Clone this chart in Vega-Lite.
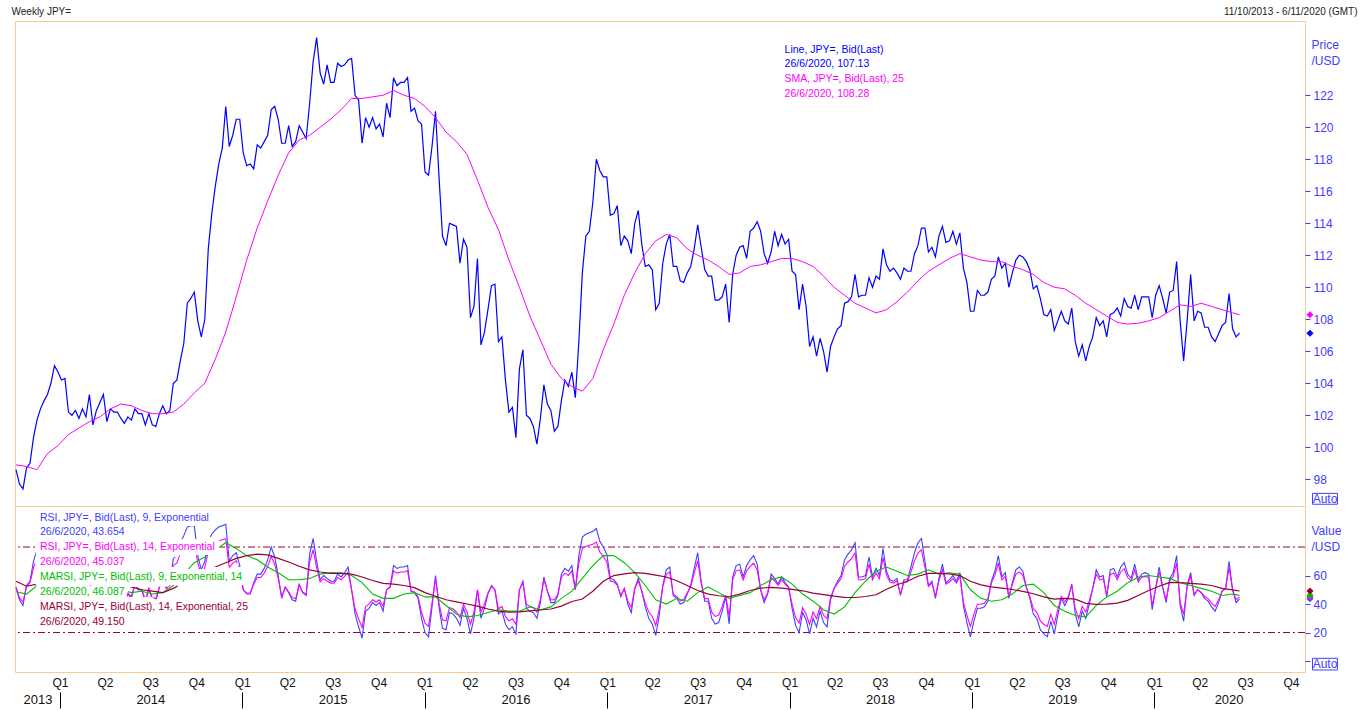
{
  "$schema": "https://vega.github.io/schema/vega-lite/v6.json",
  "background": "white",
  "padding": {"left": 10, "top": 5, "right": 0, "bottom": 0},
  "spacing": 0,
  "bounds": "flush",
  "config": {
    "view": {"stroke": "#ffc890", "strokeWidth": 1},
    "axis": {"grid": false, "domain": false, "labelFont": "Liberation Sans", "titleFont": "Liberation Sans", "titleFontWeight": "normal"},
    "text": {"font": "Liberation Sans"}
  },
  "datasets": {
    "weekly": [
      {"date":"2013-10-11","price":98.6,"rsi9":52,"rsi14":51.6},
      {"date":"2013-10-18","price":97.7,"rsi9":43,"rsi14":44.5},
      {"date":"2013-10-25","price":97.4,"rsi9":39,"rsi14":41.4},
      {"date":"2013-11-01","price":98.7,"rsi9":53,"rsi14":52.3},
      {"date":"2013-11-08","price":99.0,"rsi9":56,"rsi14":54.7},
      {"date":"2013-11-15","price":100.6,"rsi9":70,"rsi14":65.6},
      {"date":"2013-11-22","price":101.7,"rsi9":78,"rsi14":71.8},
      {"date":"2013-11-29","price":102.4,"rsi9":82,"rsi14":75.0},
      {"date":"2013-12-06","price":102.9,"rsi9":85,"rsi14":77.3},
      {"date":"2013-12-13","price":103.3,"rsi9":86,"rsi14":78.1},
      {"date":"2013-12-20","price":104.0,"rsi9":89,"rsi14":80.4},
      {"date":"2013-12-27","price":105.1,"rsi9":92,"rsi14":82.8},
      {"date":"2014-01-03","price":104.7,"rsi9":85,"rsi14":77.3},
      {"date":"2014-01-10","price":104.2,"rsi9":74,"rsi14":68.7},
      {"date":"2014-01-17","price":104.3,"rsi9":75,"rsi14":69.5},
      {"date":"2014-01-24","price":102.2,"rsi9":50,"rsi14":50.0},
      {"date":"2014-01-31","price":102.0,"rsi9":47,"rsi14":47.7},
      {"date":"2014-02-07","price":102.3,"rsi9":51,"rsi14":50.8},
      {"date":"2014-02-14","price":101.8,"rsi9":44,"rsi14":45.3},
      {"date":"2014-02-21","price":102.4,"rsi9":53,"rsi14":52.3},
      {"date":"2014-02-28","price":101.9,"rsi9":46,"rsi14":46.9},
      {"date":"2014-03-07","price":103.3,"rsi9":64,"rsi14":60.9},
      {"date":"2014-03-14","price":101.4,"rsi9":40,"rsi14":42.2},
      {"date":"2014-03-21","price":102.3,"rsi9":52,"rsi14":51.6},
      {"date":"2014-03-28","price":102.8,"rsi9":58,"rsi14":56.2},
      {"date":"2014-04-04","price":103.3,"rsi9":62,"rsi14":59.4},
      {"date":"2014-04-11","price":101.6,"rsi9":42,"rsi14":43.8},
      {"date":"2014-04-18","price":102.4,"rsi9":52,"rsi14":51.6},
      {"date":"2014-04-25","price":102.2,"rsi9":49,"rsi14":49.2},
      {"date":"2014-05-02","price":102.2,"rsi9":49,"rsi14":49.2},
      {"date":"2014-05-09","price":101.8,"rsi9":44,"rsi14":45.3},
      {"date":"2014-05-16","price":101.5,"rsi9":41,"rsi14":43.0},
      {"date":"2014-05-23","price":101.9,"rsi9":47,"rsi14":47.7},
      {"date":"2014-05-30","price":101.7,"rsi9":44,"rsi14":45.3},
      {"date":"2014-06-06","price":102.4,"rsi9":54,"rsi14":53.1},
      {"date":"2014-06-13","price":102.1,"rsi9":50,"rsi14":50.0},
      {"date":"2014-06-20","price":102.1,"rsi9":50,"rsi14":50.0},
      {"date":"2014-06-27","price":101.4,"rsi9":41,"rsi14":43.0},
      {"date":"2014-07-04","price":102.1,"rsi9":51,"rsi14":50.8},
      {"date":"2014-07-11","price":101.4,"rsi9":43,"rsi14":44.5},
      {"date":"2014-07-18","price":101.3,"rsi9":42,"rsi14":43.8},
      {"date":"2014-07-25","price":102.1,"rsi9":52,"rsi14":51.6},
      {"date":"2014-08-01","price":102.6,"rsi9":58,"rsi14":56.2},
      {"date":"2014-08-08","price":102.1,"rsi9":51,"rsi14":50.8},
      {"date":"2014-08-15","price":102.3,"rsi9":54,"rsi14":53.1},
      {"date":"2014-08-22","price":104.0,"rsi9":72,"rsi14":67.2},
      {"date":"2014-08-29","price":104.2,"rsi9":74,"rsi14":68.7},
      {"date":"2014-09-05","price":105.4,"rsi9":83,"rsi14":75.7},
      {"date":"2014-09-12","price":106.5,"rsi9":88,"rsi14":79.6},
      {"date":"2014-09-19","price":109.0,"rsi9":94,"rsi14":84.3},
      {"date":"2014-09-26","price":109.3,"rsi9":95,"rsi14":85.1},
      {"date":"2014-10-03","price":109.7,"rsi9":95,"rsi14":85.1},
      {"date":"2014-10-10","price":107.9,"rsi9":74,"rsi14":68.7},
      {"date":"2014-10-17","price":106.9,"rsi9":64,"rsi14":60.9},
      {"date":"2014-10-24","price":108.0,"rsi9":70,"rsi14":65.6},
      {"date":"2014-10-31","price":112.4,"rsi9":84,"rsi14":76.5},
      {"date":"2014-11-07","price":114.6,"rsi9":89,"rsi14":80.4},
      {"date":"2014-11-14","price":116.3,"rsi9":92,"rsi14":82.8},
      {"date":"2014-11-21","price":117.7,"rsi9":94,"rsi14":84.3},
      {"date":"2014-11-28","price":118.7,"rsi9":95,"rsi14":85.1},
      {"date":"2014-12-05","price":121.3,"rsi9":96,"rsi14":85.9},
      {"date":"2014-12-12","price":118.8,"rsi9":70,"rsi14":65.6},
      {"date":"2014-12-19","price":119.5,"rsi9":74,"rsi14":68.7},
      {"date":"2014-12-26","price":120.5,"rsi9":76,"rsi14":70.3},
      {"date":"2015-01-02","price":120.5,"rsi9":67,"rsi14":63.3},
      {"date":"2015-01-09","price":118.4,"rsi9":50,"rsi14":50.0},
      {"date":"2015-01-16","price":117.6,"rsi9":47,"rsi14":47.7},
      {"date":"2015-01-23","price":117.7,"rsi9":47,"rsi14":47.7},
      {"date":"2015-01-30","price":117.4,"rsi9":55,"rsi14":53.9},
      {"date":"2015-02-06","price":118.9,"rsi9":61,"rsi14":58.6},
      {"date":"2015-02-13","price":118.7,"rsi9":61,"rsi14":58.6},
      {"date":"2015-02-20","price":119.1,"rsi9":65,"rsi14":61.7},
      {"date":"2015-02-27","price":119.5,"rsi9":71,"rsi14":66.4},
      {"date":"2015-03-06","price":121.1,"rsi9":80,"rsi14":73.4},
      {"date":"2015-03-13","price":121.3,"rsi9":73,"rsi14":67.9},
      {"date":"2015-03-20","price":120.5,"rsi9":60,"rsi14":57.8},
      {"date":"2015-03-27","price":119.0,"rsi9":44,"rsi14":45.3},
      {"date":"2015-04-03","price":119.0,"rsi9":52,"rsi14":51.6},
      {"date":"2015-04-10","price":120.1,"rsi9":48,"rsi14":48.4},
      {"date":"2015-04-17","price":118.8,"rsi9":43,"rsi14":44.5},
      {"date":"2015-04-24","price":119.1,"rsi9":42,"rsi14":43.8},
      {"date":"2015-05-01","price":120.1,"rsi9":54,"rsi14":53.1},
      {"date":"2015-05-08","price":119.7,"rsi9":48,"rsi14":48.4},
      {"date":"2015-05-15","price":119.3,"rsi9":46,"rsi14":46.9},
      {"date":"2015-05-22","price":121.5,"rsi9":75,"rsi14":69.5},
      {"date":"2015-05-29","price":124.1,"rsi9":86,"rsi14":78.1},
      {"date":"2015-06-05","price":125.6,"rsi9":70,"rsi14":65.6},
      {"date":"2015-06-12","price":123.4,"rsi9":57,"rsi14":55.5},
      {"date":"2015-06-19","price":122.7,"rsi9":60,"rsi14":57.8},
      {"date":"2015-06-26","price":123.9,"rsi9":58,"rsi14":56.2},
      {"date":"2015-07-03","price":122.8,"rsi9":56,"rsi14":54.7},
      {"date":"2015-07-10","price":122.8,"rsi9":56,"rsi14":54.7},
      {"date":"2015-07-17","price":124.0,"rsi9":61,"rsi14":58.6},
      {"date":"2015-07-24","price":123.8,"rsi9":59,"rsi14":57.0},
      {"date":"2015-07-31","price":123.9,"rsi9":62,"rsi14":59.4},
      {"date":"2015-08-07","price":124.2,"rsi9":66,"rsi14":62.5},
      {"date":"2015-08-14","price":124.3,"rsi9":50,"rsi14":50.0},
      {"date":"2015-08-21","price":122.0,"rsi9":33,"rsi14":36.7},
      {"date":"2015-08-28","price":121.7,"rsi9":24,"rsi14":29.7},
      {"date":"2015-09-04","price":119.0,"rsi9":16,"rsi14":23.5},
      {"date":"2015-09-11","price":120.6,"rsi9":35,"rsi14":38.3},
      {"date":"2015-09-18","price":120.0,"rsi9":37,"rsi14":39.9},
      {"date":"2015-09-25","price":120.6,"rsi9":41,"rsi14":43.0},
      {"date":"2015-10-02","price":119.9,"rsi9":39,"rsi14":41.4},
      {"date":"2015-10-09","price":120.2,"rsi9":41,"rsi14":43.0},
      {"date":"2015-10-16","price":119.4,"rsi9":35,"rsi14":38.3},
      {"date":"2015-10-23","price":121.5,"rsi9":50,"rsi14":50.0},
      {"date":"2015-10-30","price":120.6,"rsi9":52,"rsi14":51.6},
      {"date":"2015-11-06","price":123.1,"rsi9":67,"rsi14":63.3},
      {"date":"2015-11-13","price":122.6,"rsi9":65,"rsi14":61.7},
      {"date":"2015-11-20","price":122.8,"rsi9":66,"rsi14":62.5},
      {"date":"2015-11-27","price":122.8,"rsi9":66,"rsi14":62.5},
      {"date":"2015-12-04","price":123.1,"rsi9":67,"rsi14":63.3},
      {"date":"2015-12-11","price":121.0,"rsi9":49,"rsi14":49.2},
      {"date":"2015-12-18","price":121.2,"rsi9":48,"rsi14":48.4},
      {"date":"2015-12-25","price":120.4,"rsi9":44,"rsi14":45.3},
      {"date":"2016-01-01","price":120.2,"rsi9":30,"rsi14":34.4},
      {"date":"2016-01-08","price":117.2,"rsi9":20,"rsi14":26.6},
      {"date":"2016-01-15","price":117.0,"rsi9":17,"rsi14":24.3},
      {"date":"2016-01-22","price":118.8,"rsi9":38,"rsi14":40.6},
      {"date":"2016-01-29","price":121.0,"rsi9":60,"rsi14":57.8},
      {"date":"2016-02-05","price":116.9,"rsi9":38,"rsi14":40.6},
      {"date":"2016-02-12","price":113.2,"rsi9":23,"rsi14":28.9},
      {"date":"2016-02-19","price":112.6,"rsi9":22,"rsi14":28.2},
      {"date":"2016-02-26","price":114.0,"rsi9":34,"rsi14":37.5},
      {"date":"2016-03-04","price":113.9,"rsi9":33,"rsi14":36.7},
      {"date":"2016-03-11","price":113.8,"rsi9":30,"rsi14":34.4},
      {"date":"2016-03-18","price":111.5,"rsi9":25,"rsi14":30.5},
      {"date":"2016-03-25","price":113.0,"rsi9":37,"rsi14":39.9},
      {"date":"2016-04-01","price":112.5,"rsi9":30,"rsi14":34.4},
      {"date":"2016-04-08","price":108.1,"rsi9":19,"rsi14":25.8},
      {"date":"2016-04-15","price":108.8,"rsi9":30,"rsi14":34.4},
      {"date":"2016-04-22","price":111.8,"rsi9":50,"rsi14":50.0},
      {"date":"2016-04-29","price":106.4,"rsi9":30,"rsi14":34.4},
      {"date":"2016-05-06","price":107.2,"rsi9":37,"rsi14":39.9},
      {"date":"2016-05-13","price":108.6,"rsi9":47,"rsi14":47.7},
      {"date":"2016-05-20","price":110.1,"rsi9":53,"rsi14":52.3},
      {"date":"2016-05-27","price":110.2,"rsi9":50,"rsi14":50.0},
      {"date":"2016-06-03","price":106.6,"rsi9":33,"rsi14":36.7},
      {"date":"2016-06-10","price":106.9,"rsi9":35,"rsi14":38.3},
      {"date":"2016-06-17","price":104.2,"rsi9":26,"rsi14":31.3},
      {"date":"2016-06-24","price":102.2,"rsi9":22,"rsi14":28.2},
      {"date":"2016-07-01","price":102.5,"rsi9":24,"rsi14":29.7},
      {"date":"2016-07-08","price":100.6,"rsi9":19,"rsi14":25.8},
      {"date":"2016-07-15","price":104.9,"rsi9":50,"rsi14":50.0},
      {"date":"2016-07-22","price":106.1,"rsi9":56,"rsi14":54.7},
      {"date":"2016-07-29","price":102.0,"rsi9":37,"rsi14":39.9},
      {"date":"2016-08-05","price":101.8,"rsi9":35,"rsi14":38.3},
      {"date":"2016-08-12","price":101.3,"rsi9":34,"rsi14":37.5},
      {"date":"2016-08-19","price":100.2,"rsi9":30,"rsi14":34.4},
      {"date":"2016-08-26","price":101.8,"rsi9":41,"rsi14":43.0},
      {"date":"2016-09-02","price":103.9,"rsi9":59,"rsi14":57.0},
      {"date":"2016-09-09","price":102.7,"rsi9":49,"rsi14":49.2},
      {"date":"2016-09-16","price":102.3,"rsi9":41,"rsi14":43.0},
      {"date":"2016-09-23","price":101.0,"rsi9":41,"rsi14":43.0},
      {"date":"2016-09-30","price":101.3,"rsi9":46,"rsi14":46.9},
      {"date":"2016-10-07","price":102.9,"rsi9":61,"rsi14":58.6},
      {"date":"2016-10-14","price":104.2,"rsi9":65,"rsi14":61.7},
      {"date":"2016-10-21","price":103.8,"rsi9":63,"rsi14":60.1},
      {"date":"2016-10-28","price":104.7,"rsi9":67,"rsi14":63.3},
      {"date":"2016-11-04","price":103.1,"rsi9":50,"rsi14":50.0},
      {"date":"2016-11-11","price":106.6,"rsi9":74,"rsi14":68.7},
      {"date":"2016-11-18","price":110.9,"rsi9":87,"rsi14":78.9},
      {"date":"2016-11-25","price":113.2,"rsi9":89,"rsi14":80.4},
      {"date":"2016-12-02","price":113.5,"rsi9":90,"rsi14":81.2},
      {"date":"2016-12-09","price":115.3,"rsi9":91,"rsi14":82.0},
      {"date":"2016-12-16","price":118.0,"rsi9":93,"rsi14":83.5},
      {"date":"2016-12-23","price":117.3,"rsi9":84,"rsi14":76.5},
      {"date":"2016-12-30","price":116.9,"rsi9":80,"rsi14":73.4},
      {"date":"2017-01-06","price":116.9,"rsi9":75,"rsi14":69.5},
      {"date":"2017-01-13","price":114.5,"rsi9":58,"rsi14":56.2},
      {"date":"2017-01-20","price":114.6,"rsi9":57,"rsi14":55.5},
      {"date":"2017-01-27","price":115.1,"rsi9":54,"rsi14":53.1},
      {"date":"2017-02-03","price":112.6,"rsi9":45,"rsi14":46.1},
      {"date":"2017-02-10","price":113.2,"rsi9":51,"rsi14":50.8},
      {"date":"2017-02-17","price":112.9,"rsi9":40,"rsi14":42.2},
      {"date":"2017-02-24","price":112.1,"rsi9":34,"rsi14":37.5},
      {"date":"2017-03-03","price":114.0,"rsi9":51,"rsi14":50.8},
      {"date":"2017-03-10","price":114.8,"rsi9":58,"rsi14":56.2},
      {"date":"2017-03-17","price":112.7,"rsi9":49,"rsi14":49.2},
      {"date":"2017-03-24","price":111.3,"rsi9":38,"rsi14":40.6},
      {"date":"2017-03-31","price":111.4,"rsi9":30,"rsi14":34.4},
      {"date":"2017-04-07","price":111.1,"rsi9":26,"rsi14":31.3},
      {"date":"2017-04-14","price":108.6,"rsi9":18,"rsi14":25.0},
      {"date":"2017-04-21","price":109.0,"rsi9":32,"rsi14":36.0},
      {"date":"2017-04-28","price":111.5,"rsi9":53,"rsi14":52.3},
      {"date":"2017-05-05","price":112.7,"rsi9":64,"rsi14":60.9},
      {"date":"2017-05-12","price":113.3,"rsi9":66,"rsi14":62.5},
      {"date":"2017-05-19","price":111.3,"rsi9":46,"rsi14":46.9},
      {"date":"2017-05-26","price":111.3,"rsi9":44,"rsi14":45.3},
      {"date":"2017-06-02","price":110.4,"rsi9":40,"rsi14":42.2},
      {"date":"2017-06-09","price":110.3,"rsi9":41,"rsi14":43.0},
      {"date":"2017-06-16","price":110.9,"rsi9":47,"rsi14":47.7},
      {"date":"2017-06-23","price":111.3,"rsi9":53,"rsi14":52.3},
      {"date":"2017-06-30","price":112.4,"rsi9":65,"rsi14":61.7},
      {"date":"2017-07-07","price":113.9,"rsi9":76,"rsi14":70.3},
      {"date":"2017-07-14","price":112.5,"rsi9":56,"rsi14":54.7},
      {"date":"2017-07-21","price":111.1,"rsi9":42,"rsi14":43.8},
      {"date":"2017-07-28","price":110.7,"rsi9":42,"rsi14":43.8},
      {"date":"2017-08-04","price":110.7,"rsi9":30,"rsi14":34.4},
      {"date":"2017-08-11","price":109.2,"rsi9":26,"rsi14":31.3},
      {"date":"2017-08-18","price":109.2,"rsi9":27,"rsi14":32.1},
      {"date":"2017-08-25","price":109.4,"rsi9":35,"rsi14":38.3},
      {"date":"2017-09-01","price":110.2,"rsi9":45,"rsi14":46.1},
      {"date":"2017-09-08","price":107.8,"rsi9":26,"rsi14":31.3},
      {"date":"2017-09-15","price":110.8,"rsi9":59,"rsi14":57.0},
      {"date":"2017-09-22","price":112.0,"rsi9":67,"rsi14":63.3},
      {"date":"2017-09-29","price":112.5,"rsi9":68,"rsi14":64.0},
      {"date":"2017-10-06","price":112.6,"rsi9":59,"rsi14":57.0},
      {"date":"2017-10-13","price":111.8,"rsi9":67,"rsi14":63.3},
      {"date":"2017-10-20","price":113.5,"rsi9":71,"rsi14":66.4},
      {"date":"2017-10-27","price":113.7,"rsi9":74,"rsi14":68.7},
      {"date":"2017-11-03","price":114.1,"rsi9":68,"rsi14":64.0},
      {"date":"2017-11-10","price":113.5,"rsi9":50,"rsi14":50.0},
      {"date":"2017-11-17","price":112.1,"rsi9":41,"rsi14":43.0},
      {"date":"2017-11-24","price":111.5,"rsi9":47,"rsi14":47.7},
      {"date":"2017-12-01","price":112.2,"rsi9":61,"rsi14":58.6},
      {"date":"2017-12-08","price":113.5,"rsi9":58,"rsi14":56.2},
      {"date":"2017-12-15","price":112.6,"rsi9":54,"rsi14":53.1},
      {"date":"2017-12-22","price":113.3,"rsi9":59,"rsi14":57.0},
      {"date":"2017-12-29","price":112.7,"rsi9":55,"rsi14":53.9},
      {"date":"2018-01-05","price":113.0,"rsi9":52,"rsi14":51.6},
      {"date":"2018-01-12","price":111.0,"rsi9":37,"rsi14":39.9},
      {"date":"2018-01-19","price":110.8,"rsi9":25,"rsi14":30.5},
      {"date":"2018-01-26","price":108.6,"rsi9":20,"rsi14":26.6},
      {"date":"2018-02-02","price":110.2,"rsi9":34,"rsi14":37.5},
      {"date":"2018-02-09","price":108.8,"rsi9":29,"rsi14":32.8},
      {"date":"2018-02-16","price":106.3,"rsi9":19,"rsi14":25.8},
      {"date":"2018-02-23","price":106.9,"rsi9":30,"rsi14":34.4},
      {"date":"2018-03-02","price":105.7,"rsi9":24,"rsi14":29.7},
      {"date":"2018-03-09","price":106.8,"rsi9":35,"rsi14":38.3},
      {"date":"2018-03-16","price":106.0,"rsi9":27,"rsi14":32.1},
      {"date":"2018-03-23","price":104.7,"rsi9":24,"rsi14":29.7},
      {"date":"2018-03-30","price":106.3,"rsi9":43,"rsi14":44.5},
      {"date":"2018-04-06","price":106.9,"rsi9":51,"rsi14":50.8},
      {"date":"2018-04-13","price":107.4,"rsi9":56,"rsi14":54.7},
      {"date":"2018-04-20","price":107.6,"rsi9":60,"rsi14":57.8},
      {"date":"2018-04-27","price":109.0,"rsi9":71,"rsi14":66.4},
      {"date":"2018-05-04","price":109.1,"rsi9":75,"rsi14":69.5},
      {"date":"2018-05-11","price":109.4,"rsi9":78,"rsi14":71.8},
      {"date":"2018-05-18","price":110.8,"rsi9":83,"rsi14":75.7},
      {"date":"2018-05-25","price":109.4,"rsi9":59,"rsi14":57.0},
      {"date":"2018-06-01","price":109.5,"rsi9":59,"rsi14":57.0},
      {"date":"2018-06-08","price":109.5,"rsi9":60,"rsi14":57.8},
      {"date":"2018-06-15","price":110.6,"rsi9":73,"rsi14":67.9},
      {"date":"2018-06-22","price":110.0,"rsi9":59,"rsi14":57.0},
      {"date":"2018-06-29","price":110.7,"rsi9":65,"rsi14":61.7},
      {"date":"2018-07-06","price":110.5,"rsi9":60,"rsi14":57.8},
      {"date":"2018-07-13","price":112.4,"rsi9":79,"rsi14":72.6},
      {"date":"2018-07-20","price":111.4,"rsi9":63,"rsi14":60.1},
      {"date":"2018-07-27","price":111.0,"rsi9":57,"rsi14":55.5},
      {"date":"2018-08-03","price":111.2,"rsi9":56,"rsi14":54.7},
      {"date":"2018-08-10","price":110.9,"rsi9":58,"rsi14":56.2},
      {"date":"2018-08-17","price":110.5,"rsi9":46,"rsi14":46.9},
      {"date":"2018-08-24","price":111.2,"rsi9":57,"rsi14":55.5},
      {"date":"2018-08-31","price":111.0,"rsi9":57,"rsi14":55.5},
      {"date":"2018-09-07","price":111.0,"rsi9":66,"rsi14":62.5},
      {"date":"2018-09-14","price":112.1,"rsi9":76,"rsi14":70.3},
      {"date":"2018-09-21","price":112.6,"rsi9":83,"rsi14":75.7},
      {"date":"2018-09-28","price":113.7,"rsi9":86,"rsi14":78.1},
      {"date":"2018-10-05","price":113.7,"rsi9":70,"rsi14":65.6},
      {"date":"2018-10-12","price":112.2,"rsi9":53,"rsi14":52.3},
      {"date":"2018-10-19","price":112.5,"rsi9":56,"rsi14":54.7},
      {"date":"2018-10-26","price":111.9,"rsi9":44,"rsi14":45.3},
      {"date":"2018-11-02","price":113.2,"rsi9":58,"rsi14":56.2},
      {"date":"2018-11-09","price":113.8,"rsi9":68,"rsi14":64.0},
      {"date":"2018-11-16","price":112.8,"rsi9":55,"rsi14":53.9},
      {"date":"2018-11-23","price":112.9,"rsi9":57,"rsi14":55.5},
      {"date":"2018-11-30","price":113.5,"rsi9":60,"rsi14":57.8},
      {"date":"2018-12-07","price":112.7,"rsi9":56,"rsi14":54.7},
      {"date":"2018-12-14","price":113.4,"rsi9":62,"rsi14":59.4},
      {"date":"2018-12-21","price":111.2,"rsi9":39,"rsi14":41.4},
      {"date":"2018-12-28","price":110.3,"rsi9":27,"rsi14":32.1},
      {"date":"2019-01-04","price":108.5,"rsi9":17,"rsi14":24.3},
      {"date":"2019-01-11","price":108.5,"rsi9":28,"rsi14":32.8},
      {"date":"2019-01-18","price":109.8,"rsi9":37,"rsi14":39.9},
      {"date":"2019-01-25","price":109.5,"rsi9":37,"rsi14":39.9},
      {"date":"2019-02-01","price":109.5,"rsi9":38,"rsi14":40.6},
      {"date":"2019-02-08","price":109.7,"rsi9":42,"rsi14":43.8},
      {"date":"2019-02-15","price":110.5,"rsi9":56,"rsi14":54.7},
      {"date":"2019-02-22","price":110.7,"rsi9":63,"rsi14":60.1},
      {"date":"2019-03-01","price":111.9,"rsi9":74,"rsi14":68.7},
      {"date":"2019-03-08","price":111.2,"rsi9":59,"rsi14":57.0},
      {"date":"2019-03-15","price":111.5,"rsi9":62,"rsi14":59.4},
      {"date":"2019-03-22","price":110.0,"rsi9":44,"rsi14":45.3},
      {"date":"2019-03-29","price":110.9,"rsi9":55,"rsi14":53.9},
      {"date":"2019-04-05","price":111.7,"rsi9":64,"rsi14":60.9},
      {"date":"2019-04-12","price":112.0,"rsi9":66,"rsi14":62.5},
      {"date":"2019-04-19","price":111.9,"rsi9":63,"rsi14":60.1},
      {"date":"2019-04-26","price":111.6,"rsi9":52,"rsi14":51.6},
      {"date":"2019-05-03","price":111.1,"rsi9":44,"rsi14":45.3},
      {"date":"2019-05-10","price":109.9,"rsi9":33,"rsi14":36.7},
      {"date":"2019-05-17","price":110.1,"rsi9":30,"rsi14":34.4},
      {"date":"2019-05-24","price":109.3,"rsi9":22,"rsi14":28.2},
      {"date":"2019-05-31","price":108.3,"rsi9":19,"rsi14":25.8},
      {"date":"2019-06-07","price":108.2,"rsi9":17,"rsi14":24.3},
      {"date":"2019-06-14","price":108.6,"rsi9":28,"rsi14":32.8},
      {"date":"2019-06-21","price":107.3,"rsi9":19,"rsi14":25.8},
      {"date":"2019-06-28","price":107.9,"rsi9":32,"rsi14":36.0},
      {"date":"2019-07-05","price":108.5,"rsi9":44,"rsi14":45.3},
      {"date":"2019-07-12","price":107.9,"rsi9":39,"rsi14":41.4},
      {"date":"2019-07-19","price":107.7,"rsi9":44,"rsi14":45.3},
      {"date":"2019-07-26","price":108.7,"rsi9":54,"rsi14":53.1},
      {"date":"2019-08-02","price":106.6,"rsi9":33,"rsi14":36.7},
      {"date":"2019-08-09","price":105.7,"rsi9":24,"rsi14":29.7},
      {"date":"2019-08-16","price":106.4,"rsi9":35,"rsi14":38.3},
      {"date":"2019-08-23","price":105.4,"rsi9":30,"rsi14":34.4},
      {"date":"2019-08-30","price":106.3,"rsi9":40,"rsi14":42.2},
      {"date":"2019-09-06","price":106.9,"rsi9":51,"rsi14":50.8},
      {"date":"2019-09-13","price":108.1,"rsi9":64,"rsi14":60.9},
      {"date":"2019-09-20","price":107.6,"rsi9":59,"rsi14":57.0},
      {"date":"2019-09-27","price":107.9,"rsi9":60,"rsi14":57.8},
      {"date":"2019-10-04","price":106.9,"rsi9":45,"rsi14":46.1},
      {"date":"2019-10-11","price":108.3,"rsi9":64,"rsi14":60.9},
      {"date":"2019-10-18","price":108.4,"rsi9":65,"rsi14":61.7},
      {"date":"2019-10-25","price":108.7,"rsi9":59,"rsi14":57.0},
      {"date":"2019-11-01","price":108.2,"rsi9":66,"rsi14":62.5},
      {"date":"2019-11-08","price":109.3,"rsi9":69,"rsi14":64.8},
      {"date":"2019-11-15","price":108.8,"rsi9":61,"rsi14":58.6},
      {"date":"2019-11-22","price":108.7,"rsi9":58,"rsi14":56.2},
      {"date":"2019-11-29","price":109.5,"rsi9":68,"rsi14":64.0},
      {"date":"2019-12-06","price":108.6,"rsi9":57,"rsi14":55.5},
      {"date":"2019-12-13","price":109.4,"rsi9":61,"rsi14":58.6},
      {"date":"2019-12-20","price":109.4,"rsi9":62,"rsi14":59.4},
      {"date":"2019-12-27","price":109.4,"rsi9":61,"rsi14":58.6},
      {"date":"2020-01-03","price":108.1,"rsi9":36,"rsi14":39.1},
      {"date":"2020-01-10","price":109.5,"rsi9":51,"rsi14":50.8},
      {"date":"2020-01-17","price":110.1,"rsi9":66,"rsi14":62.5},
      {"date":"2020-01-24","price":109.3,"rsi9":52,"rsi14":51.6},
      {"date":"2020-01-31","price":108.4,"rsi9":41,"rsi14":43.0},
      {"date":"2020-02-07","price":109.7,"rsi9":58,"rsi14":56.2},
      {"date":"2020-02-14","price":109.8,"rsi9":62,"rsi14":59.4},
      {"date":"2020-02-21","price":111.6,"rsi9":74,"rsi14":68.7},
      {"date":"2020-02-28","price":107.9,"rsi9":39,"rsi14":41.4},
      {"date":"2020-03-06","price":105.4,"rsi9":28,"rsi14":32.8},
      {"date":"2020-03-13","price":107.9,"rsi9":53,"rsi14":52.3},
      {"date":"2020-03-20","price":110.8,"rsi9":62,"rsi14":59.4},
      {"date":"2020-03-27","price":107.9,"rsi9":46,"rsi14":46.9},
      {"date":"2020-04-03","price":108.5,"rsi9":50,"rsi14":50.0},
      {"date":"2020-04-10","price":108.4,"rsi9":48,"rsi14":48.4},
      {"date":"2020-04-17","price":107.5,"rsi9":44,"rsi14":45.3},
      {"date":"2020-04-24","price":107.5,"rsi9":42,"rsi14":43.8},
      {"date":"2020-05-01","price":106.9,"rsi9":38,"rsi14":40.6},
      {"date":"2020-05-08","price":106.6,"rsi9":35,"rsi14":38.3},
      {"date":"2020-05-15","price":107.1,"rsi9":41,"rsi14":43.0},
      {"date":"2020-05-22","price":107.6,"rsi9":49,"rsi14":49.2},
      {"date":"2020-05-29","price":107.8,"rsi9":51,"rsi14":50.8},
      {"date":"2020-06-05","price":109.6,"rsi9":70,"rsi14":65.6},
      {"date":"2020-06-12","price":107.4,"rsi9":50,"rsi14":50.0},
      {"date":"2020-06-19","price":106.9,"rsi9":41,"rsi14":43.0},
      {"date":"2020-06-26","price":107.13,"rsi9":43.654,"rsi14":45.037}
    ],
    "smooth": [
      {"date":"2013-10-11","sma":98.9,"marsi9":48.6,"marsi14":56.0},
      {"date":"2013-11-01","sma":98.8,"marsi9":47.0,"marsi14":52.5},
      {"date":"2013-11-22","sma":98.6,"marsi9":53.0,"marsi14":54.0},
      {"date":"2013-12-13","sma":99.6,"marsi9":60.0,"marsi14":58.0},
      {"date":"2014-01-03","sma":100.1,"marsi9":66.0,"marsi14":62.0},
      {"date":"2014-01-24","sma":100.8,"marsi9":68.0,"marsi14":63.0},
      {"date":"2014-02-14","sma":101.2,"marsi9":63.0,"marsi14":62.0},
      {"date":"2014-03-07","sma":101.6,"marsi9":60.0,"marsi14":60.0},
      {"date":"2014-03-28","sma":101.9,"marsi9":57.0,"marsi14":58.0},
      {"date":"2014-04-18","sma":102.4,"marsi9":54.0,"marsi14":56.0},
      {"date":"2014-05-09","sma":102.7,"marsi9":50.0,"marsi14":54.0},
      {"date":"2014-05-30","sma":102.6,"marsi9":48.0,"marsi14":52.0},
      {"date":"2014-06-20","sma":102.3,"marsi9":49.0,"marsi14":50.0},
      {"date":"2014-07-11","sma":102.1,"marsi9":47.0,"marsi14":49.0},
      {"date":"2014-08-01","sma":102.1,"marsi9":48.0,"marsi14":48.0},
      {"date":"2014-08-22","sma":102.2,"marsi9":53.0,"marsi14":51.0},
      {"date":"2014-09-12","sma":102.7,"marsi9":61.0,"marsi14":55.0},
      {"date":"2014-10-03","sma":103.4,"marsi9":69.0,"marsi14":59.0},
      {"date":"2014-10-24","sma":104.0,"marsi9":73.0,"marsi14":63.0},
      {"date":"2014-11-14","sma":105.5,"marsi9":78.0,"marsi14":66.0},
      {"date":"2014-12-05","sma":107.2,"marsi9":83.0,"marsi14":69.0},
      {"date":"2014-12-26","sma":109.4,"marsi9":79.0,"marsi14":72.0},
      {"date":"2015-01-16","sma":111.7,"marsi9":74.0,"marsi14":74.0},
      {"date":"2015-02-06","sma":113.7,"marsi9":71.0,"marsi14":75.0},
      {"date":"2015-02-27","sma":115.4,"marsi9":66.0,"marsi14":74.5},
      {"date":"2015-03-20","sma":117.0,"marsi9":62.0,"marsi14":72.0},
      {"date":"2015-04-10","sma":118.4,"marsi9":57.0,"marsi14":69.5},
      {"date":"2015-05-01","sma":119.2,"marsi9":57.0,"marsi14":66.5},
      {"date":"2015-05-22","sma":119.5,"marsi9":58.0,"marsi14":64.0},
      {"date":"2015-06-12","sma":120.0,"marsi9":61.0,"marsi14":62.5},
      {"date":"2015-07-03","sma":120.5,"marsi9":62.0,"marsi14":61.5},
      {"date":"2015-07-24","sma":121.1,"marsi9":62.0,"marsi14":61.5},
      {"date":"2015-08-14","sma":121.8,"marsi9":60.0,"marsi14":61.0},
      {"date":"2015-09-04","sma":121.8,"marsi9":55.0,"marsi14":59.0},
      {"date":"2015-09-25","sma":121.9,"marsi9":47.0,"marsi14":56.5},
      {"date":"2015-10-16","sma":122.0,"marsi9":44.0,"marsi14":54.5},
      {"date":"2015-11-06","sma":122.3,"marsi9":44.0,"marsi14":54.0},
      {"date":"2015-11-27","sma":122.0,"marsi9":47.0,"marsi14":53.0},
      {"date":"2015-12-18","sma":121.8,"marsi9":48.0,"marsi14":51.5},
      {"date":"2016-01-08","sma":121.3,"marsi9":45.0,"marsi14":48.0},
      {"date":"2016-01-29","sma":120.6,"marsi9":45.0,"marsi14":45.5},
      {"date":"2016-02-19","sma":119.7,"marsi9":39.0,"marsi14":43.0},
      {"date":"2016-03-11","sma":119.1,"marsi9":33.0,"marsi14":41.5},
      {"date":"2016-04-01","sma":118.3,"marsi9":31.0,"marsi14":40.0},
      {"date":"2016-04-22","sma":116.7,"marsi9":32.0,"marsi14":38.5},
      {"date":"2016-05-13","sma":115.0,"marsi9":34.0,"marsi14":36.5},
      {"date":"2016-06-03","sma":113.6,"marsi9":36.0,"marsi14":35.0},
      {"date":"2016-06-24","sma":111.7,"marsi9":35.0,"marsi14":34.3},
      {"date":"2016-07-15","sma":110.0,"marsi9":35.0,"marsi14":34.5},
      {"date":"2016-08-05","sma":108.2,"marsi9":38.0,"marsi14":35.2},
      {"date":"2016-08-26","sma":106.7,"marsi9":36.0,"marsi14":35.8},
      {"date":"2016-09-16","sma":105.2,"marsi9":38.0,"marsi14":36.5},
      {"date":"2016-10-07","sma":104.3,"marsi9":44.0,"marsi14":38.5},
      {"date":"2016-10-28","sma":103.8,"marsi9":49.0,"marsi14":41.8},
      {"date":"2016-11-18","sma":103.5,"marsi9":58.0,"marsi14":43.5},
      {"date":"2016-12-09","sma":104.3,"marsi9":67.0,"marsi14":49.0},
      {"date":"2016-12-30","sma":106.1,"marsi9":74.0,"marsi14":56.0},
      {"date":"2017-01-20","sma":107.7,"marsi9":74.0,"marsi14":60.0},
      {"date":"2017-02-10","sma":109.5,"marsi9":69.0,"marsi14":61.1},
      {"date":"2017-03-03","sma":110.9,"marsi9":62.0,"marsi14":62.0},
      {"date":"2017-03-24","sma":112.1,"marsi9":53.0,"marsi14":61.5},
      {"date":"2017-04-14","sma":112.9,"marsi9":43.0,"marsi14":60.3},
      {"date":"2017-05-05","sma":113.3,"marsi9":40.0,"marsi14":59.0},
      {"date":"2017-05-26","sma":113.1,"marsi9":44.0,"marsi14":56.3},
      {"date":"2017-06-16","sma":112.4,"marsi9":42.0,"marsi14":53.0},
      {"date":"2017-07-07","sma":112.0,"marsi9":48.0,"marsi14":49.5},
      {"date":"2017-07-28","sma":111.7,"marsi9":52.0,"marsi14":47.0},
      {"date":"2017-08-18","sma":111.3,"marsi9":48.0,"marsi14":45.8},
      {"date":"2017-09-08","sma":110.8,"marsi9":44.0,"marsi14":45.1},
      {"date":"2017-09-29","sma":110.9,"marsi9":46.0,"marsi14":47.0},
      {"date":"2017-10-20","sma":111.3,"marsi9":48.0,"marsi14":49.5},
      {"date":"2017-11-10","sma":111.4,"marsi9":53.0,"marsi14":51.2},
      {"date":"2017-12-01","sma":111.6,"marsi9":57.0,"marsi14":51.7},
      {"date":"2017-12-22","sma":111.8,"marsi9":59.0,"marsi14":51.2},
      {"date":"2018-01-12","sma":111.8,"marsi9":54.0,"marsi14":50.3},
      {"date":"2018-02-02","sma":111.6,"marsi9":47.0,"marsi14":49.3},
      {"date":"2018-02-23","sma":111.3,"marsi9":42.0,"marsi14":47.7},
      {"date":"2018-03-16","sma":110.7,"marsi9":36.0,"marsi14":46.6},
      {"date":"2018-04-06","sma":110.0,"marsi9":33.0,"marsi14":45.5},
      {"date":"2018-04-27","sma":109.5,"marsi9":38.0,"marsi14":44.7},
      {"date":"2018-05-18","sma":109.0,"marsi9":48.0,"marsi14":44.6},
      {"date":"2018-06-08","sma":108.7,"marsi9":56.0,"marsi14":45.3},
      {"date":"2018-06-29","sma":108.4,"marsi9":63.0,"marsi14":46.5},
      {"date":"2018-07-20","sma":108.6,"marsi9":66.0,"marsi14":50.4},
      {"date":"2018-08-10","sma":109.1,"marsi9":63.0,"marsi14":53.5},
      {"date":"2018-08-31","sma":109.7,"marsi9":60.0,"marsi14":56.0},
      {"date":"2018-09-21","sma":110.4,"marsi9":61.0,"marsi14":59.5},
      {"date":"2018-10-12","sma":111.0,"marsi9":64.0,"marsi14":61.5},
      {"date":"2018-11-02","sma":111.4,"marsi9":61.0,"marsi14":61.5},
      {"date":"2018-11-23","sma":111.8,"marsi9":62.0,"marsi14":61.2},
      {"date":"2018-12-14","sma":112.1,"marsi9":61.0,"marsi14":60.0},
      {"date":"2019-01-04","sma":111.9,"marsi9":50.0,"marsi14":56.0},
      {"date":"2019-01-25","sma":111.7,"marsi9":44.0,"marsi14":53.5},
      {"date":"2019-02-15","sma":111.6,"marsi9":42.0,"marsi14":52.0},
      {"date":"2019-03-08","sma":111.6,"marsi9":43.0,"marsi14":51.2},
      {"date":"2019-03-29","sma":111.3,"marsi9":47.0,"marsi14":50.2},
      {"date":"2019-04-19","sma":111.1,"marsi9":53.0,"marsi14":48.9},
      {"date":"2019-05-10","sma":110.8,"marsi9":54.0,"marsi14":47.2},
      {"date":"2019-05-31","sma":110.3,"marsi9":48.0,"marsi14":45.0},
      {"date":"2019-06-21","sma":110.0,"marsi9":39.0,"marsi14":43.5},
      {"date":"2019-07-12","sma":109.9,"marsi9":35.0,"marsi14":44.0},
      {"date":"2019-08-02","sma":109.5,"marsi9":32.0,"marsi14":43.4},
      {"date":"2019-08-23","sma":109.0,"marsi9":31.0,"marsi14":40.5},
      {"date":"2019-09-13","sma":108.6,"marsi9":39.0,"marsi14":39.8},
      {"date":"2019-10-04","sma":108.2,"marsi9":45.0,"marsi14":40.0},
      {"date":"2019-10-25","sma":107.8,"marsi9":49.0,"marsi14":40.7},
      {"date":"2019-11-15","sma":107.7,"marsi9":55.0,"marsi14":42.6},
      {"date":"2019-12-06","sma":107.75,"marsi9":59.0,"marsi14":46.0},
      {"date":"2019-12-27","sma":107.9,"marsi9":60.0,"marsi14":49.5},
      {"date":"2020-01-17","sma":108.1,"marsi9":59.0,"marsi14":52.5},
      {"date":"2020-02-07","sma":108.5,"marsi9":58.0,"marsi14":55.2},
      {"date":"2020-02-28","sma":108.9,"marsi9":55.0,"marsi14":55.0},
      {"date":"2020-03-20","sma":108.8,"marsi9":53.0,"marsi14":54.5},
      {"date":"2020-04-10","sma":109.0,"marsi9":51.0,"marsi14":54.0},
      {"date":"2020-05-01","sma":108.8,"marsi9":49.0,"marsi14":53.0},
      {"date":"2020-05-22","sma":108.6,"marsi9":46.0,"marsi14":51.0},
      {"date":"2020-06-12","sma":108.4,"marsi9":47.0,"marsi14":50.0},
      {"date":"2020-06-26","sma":108.28,"marsi9":46.087,"marsi14":49.15}
    ],
    "lastTop": [
      {"date":"2020-11-14","value":108.28,"series":"sma"},
      {"date":"2020-11-14","value":107.13,"series":"price"}
    ],
    "lastBottom": [
      {"date":"2020-11-14","value":43.654,"series":"rsi9"},
      {"date":"2020-11-14","value":45.037,"series":"rsi14"},
      {"date":"2020-11-14","value":46.087,"series":"marsi9"},
      {"date":"2020-11-14","value":49.15,"series":"marsi14"}
    ],
    "topLegend": [
      {"date":"2017-12-28","value":124.83,"series":"price","label":"Line, JPY=, Bid(Last)"},
      {"date":"2017-12-28","value":123.94,"series":"price","label":"26/6/2020, 107.13"},
      {"date":"2017-12-28","value":123.02,"series":"sma","label":"SMA, JPY=, Bid(Last),  25"},
      {"date":"2017-12-28","value":122.06,"series":"sma","label":"26/6/2020, 108.28"}
    ],
    "bottomLegend": [
      {"date":"2013-11-28","value":100.6,"series":"rsi9","label":"RSI, JPY=, Bid(Last),  9, Exponential"},
      {"date":"2013-11-28","value":90.7,"series":"rsi9","label":"26/6/2020, 43.654"},
      {"date":"2013-11-28","value":79.8,"series":"rsi14","label":"RSI, JPY=, Bid(Last),  14, Exponential"},
      {"date":"2013-11-28","value":69.7,"series":"rsi14","label":"26/6/2020, 45.037"},
      {"date":"2013-11-28","value":59.2,"series":"marsi9","label":"MARSI, JPY=, Bid(Last),  9, Exponential, 14"},
      {"date":"2013-11-28","value":48.6,"series":"marsi9","label":"26/6/2020, 46.087"},
      {"date":"2013-11-28","value":38.1,"series":"marsi14","label":"MARSI, JPY=, Bid(Last),  14, Exponential, 25"},
      {"date":"2013-11-28","value":27.6,"series":"marsi14","label":"26/6/2020, 49.150"}
    ],
    "autoTop": [
      {"date":"2020-11-19","date2":"2021-01-08","mid":"2020-12-14","value":97.12,"value2":96.44,"center":96.78,"label":"Auto"}
    ],
    "autoBottom": [
      {"date":"2020-11-19","date2":"2021-01-08","mid":"2020-12-14","value":1.9,"value2":-6.3,"center":-2.2,"label":"Auto"}
    ],
    "levels": [
      {"level":80},
      {"level":20}
    ]
  },
  "vconcat": [
    {
      "width": 1290,
      "height": 485,
      "resolve": {"axis": {"x": "independent", "y": "independent"}},
      "layer": [
        {
          "data": {"name": "weekly"},
          "mark": {"type": "line", "color": "#0000ff", "strokeWidth": 1.2},
          "encoding": {
            "x": {
              "field": "date", "type": "temporal",
              "scale": {"type": "utc", "nice": false, "domain": [{"year": 2013, "month": 10, "date": 9, "utc": true}, {"year": 2020, "month": 11, "date": 4, "utc": true}]},
              "axis": {
                "orient": "top",
                "values": [{"year": 2013, "month": 10, "date": 9, "utc": true}],
                "labelExpr": "'Weekly JPY='",
                "labelAlign": "left", "labelOffset": -4, "labelPadding": 7, "labelBaseline": "alphabetic",
                "labelFontSize": 10, "labelColor": "#222222", "labelFlush": false,
                "ticks": false, "domain": false,
                "title": "11/10/2013 - 6/11/2020 (GMT)",
                "titleFontSize": 10, "titleColor": "#222222", "titleAlign": "right", "titleBaseline": "alphabetic",
                "titleX": 1342, "titleY": -7
              }
            },
            "y": {
              "field": "price", "type": "quantitative",
              "scale": {"domain": [96.33, 126.64], "nice": false, "zero": false},
              "axis": {
                "orient": "right",
                "values": [98, 100, 102, 104, 106, 108, 110, 112, 114, 116, 118, 120, 122],
                "tickSize": 5, "tickColor": "#4040ff", "labelColor": "#4040ff", "labelFontSize": 12, "labelPadding": 3,
                "title": ["Price", "/USD"], "titleColor": "#4040ff", "titleFontSize": 12, "titleAngle": 0,
                "titleAlign": "left", "titleBaseline": "top", "titleX": 6, "titleY": 18, "titleLineHeight": 16.5
              }
            }
          }
        },
        {
          "data": {"name": "smooth"},
          "mark": {"type": "line", "color": "#ff00ff", "strokeWidth": 1},
          "encoding": {
            "x": {"field": "date", "type": "temporal", "scale": {"type": "utc", "nice": false, "domain": [{"year": 2013, "month": 10, "date": 9, "utc": true}, {"year": 2020, "month": 11, "date": 4, "utc": true}]}, "axis": null},
            "y": {"field": "sma", "type": "quantitative", "scale": {"domain": [96.33, 126.64], "nice": false, "zero": false}, "axis": null}
          }
        },
        {
          "data": {"name": "lastTop"},
          "mark": {"type": "point", "shape": "diamond", "filled": true, "size": 50, "opacity": 1},
          "encoding": {
            "x": {"field": "date", "type": "temporal", "scale": {"type": "utc", "nice": false, "domain": [{"year": 2013, "month": 10, "date": 9, "utc": true}, {"year": 2020, "month": 11, "date": 4, "utc": true}]}, "axis": null},
            "y": {"field": "value", "type": "quantitative", "scale": {"domain": [96.33, 126.64], "nice": false, "zero": false}, "axis": null},
            "color": {"field": "series", "type": "nominal", "legend": null,
              "scale": {"domain": ["price", "sma", "rsi9", "rsi14", "marsi9", "marsi14"], "range": ["#0000ff", "#ff00ff", "#4040ff", "#ff00ff", "#00c000", "#990033"]}}
          }
        },
        {
          "data": {"name": "topLegend"},
          "mark": {"type": "text", "align": "left", "baseline": "middle", "fontSize": 10.5},
          "encoding": {
            "x": {"field": "date", "type": "temporal", "scale": {"type": "utc", "nice": false, "domain": [{"year": 2013, "month": 10, "date": 9, "utc": true}, {"year": 2020, "month": 11, "date": 4, "utc": true}]}, "axis": null},
            "y": {"field": "value", "type": "quantitative", "scale": {"domain": [96.33, 126.64], "nice": false, "zero": false}, "axis": null},
            "text": {"field": "label"},
            "color": {"field": "series", "type": "nominal", "legend": null,
              "scale": {"domain": ["price", "sma", "rsi9", "rsi14", "marsi9", "marsi14"], "range": ["#0000ff", "#ff00ff", "#4040ff", "#ff00ff", "#00c000", "#990033"]}}
          }
        },
        {
          "data": {"name": "autoTop"},
          "mark": {"type": "rect", "fill": "white", "stroke": "#4040ff", "strokeWidth": 1},
          "encoding": {
            "x": {"field": "date", "type": "temporal", "scale": {"type": "utc", "nice": false, "domain": [{"year": 2013, "month": 10, "date": 9, "utc": true}, {"year": 2020, "month": 11, "date": 4, "utc": true}]}, "axis": null},
            "x2": {"field": "date2"},
            "y": {"field": "value", "type": "quantitative", "scale": {"domain": [96.33, 126.64], "nice": false, "zero": false}, "axis": null},
            "y2": {"field": "value2"}
          }
        },
        {
          "data": {"name": "autoTop"},
          "mark": {"type": "text", "align": "center", "baseline": "middle", "fontSize": 12, "color": "#4040ff"},
          "encoding": {
            "x": {"field": "mid", "type": "temporal", "scale": {"type": "utc", "nice": false, "domain": [{"year": 2013, "month": 10, "date": 9, "utc": true}, {"year": 2020, "month": 11, "date": 4, "utc": true}]}, "axis": null},
            "y": {"field": "center", "type": "quantitative", "scale": {"domain": [96.33, 126.64], "nice": false, "zero": false}, "axis": null},
            "text": {"field": "label"}
          }
        }
      ]
    },
    {
      "width": 1290,
      "height": 166,
      "resolve": {"axis": {"x": "independent", "y": "independent"}},
      "layer": [
        {
          "data": {"name": "levels"},
          "mark": {"type": "rule", "color": "#990033", "strokeWidth": 1, "strokeDash": [7, 3, 2, 3]},
          "encoding": {
            "y": {"field": "level", "type": "quantitative", "scale": {"domain": [-7.7, 108.8], "nice": false, "zero": false}, "axis": null}
          }
        },
        {
          "data": {"name": "weekly"},
          "mark": {"type": "line", "color": "#4040ff", "strokeWidth": 1.1},
          "encoding": {
            "x": {
              "field": "date", "type": "temporal",
              "scale": {"type": "utc", "nice": false, "domain": [{"year": 2013, "month": 10, "date": 9, "utc": true}, {"year": 2020, "month": 11, "date": 4, "utc": true}]},
              "axis": {
                "orient": "bottom", "tickCount": {"interval": "month", "step": 3},
                "labelExpr": "'Q' + (floor(utcmonth(datum.value) / 3) + 1)",
                "ticks": false, "domain": false, "labelPadding": 5, "labelOffset": 3,
                "labelFontSize": 12, "labelColor": "#111111", "labelFlush": false, "labelOverlap": false, "title": null
              }
            },
            "y": {
              "field": "rsi9", "type": "quantitative",
              "scale": {"domain": [-7.7, 108.8], "nice": false, "zero": false},
              "axis": {
                "orient": "right", "values": [0, 20, 40, 60],
                "labelExpr": "datum.value == 0 ? '' : datum.label",
                "tickSize": 5, "tickColor": "#4040ff", "labelColor": "#4040ff", "labelFontSize": 12, "labelPadding": 3,
                "title": ["Value", "/USD"], "titleColor": "#4040ff", "titleFontSize": 12, "titleAngle": 0,
                "titleAlign": "left", "titleBaseline": "top", "titleX": 6, "titleY": 19, "titleLineHeight": 16.5
              }
            }
          }
        },
        {
          "data": {"name": "weekly"},
          "mark": {"type": "line", "color": "#ff00ff", "strokeWidth": 1.1},
          "encoding": {
            "x": {
              "field": "date", "type": "temporal",
              "scale": {"type": "utc", "nice": false, "domain": [{"year": 2013, "month": 10, "date": 9, "utc": true}, {"year": 2020, "month": 11, "date": 4, "utc": true}]},
              "axis": {
                "orient": "bottom", "tickCount": {"interval": "year", "step": 1},
                "labels": false, "ticks": true, "tickSize": 16, "tickColor": "#000000", "tickWidth": 1, "tickOffset": 3,
                "offset": 20, "domain": false, "title": null
              }
            },
            "y": {"field": "rsi14", "type": "quantitative", "scale": {"domain": [-7.7, 108.8], "nice": false, "zero": false}, "axis": null}
          }
        },
        {
          "data": {"name": "smooth"},
          "mark": {"type": "line", "color": "#00c000", "strokeWidth": 1.1},
          "encoding": {
            "x": {
              "field": "date", "type": "temporal",
              "scale": {"type": "utc", "nice": false, "domain": [{"year": 2013, "month": 10, "date": 9, "utc": true}, {"year": 2020, "month": 11, "date": 4, "utc": true}]},
              "axis": {
                "orient": "bottom",
                "values": [
                  {"year": 2013, "month": 11, "date": 23, "utc": true},
                  {"year": 2014, "month": 7, "date": 7, "utc": true},
                  {"year": 2015, "month": 7, "date": 7, "utc": true},
                  {"year": 2016, "month": 7, "date": 7, "utc": true},
                  {"year": 2017, "month": 7, "date": 7, "utc": true},
                  {"year": 2018, "month": 7, "date": 7, "utc": true},
                  {"year": 2019, "month": 7, "date": 7, "utc": true},
                  {"year": 2020, "month": 6, "date": 4, "utc": true}
                ],
                "labelExpr": "'' + utcyear(datum.value)",
                "ticks": false, "domain": false, "offset": 20, "labelPadding": 1,
                "labelFontSize": 13, "labelColor": "#111111", "labelFlush": false, "labelOverlap": false, "title": null
              }
            },
            "y": {"field": "marsi9", "type": "quantitative", "scale": {"domain": [-7.7, 108.8], "nice": false, "zero": false}, "axis": null}
          }
        },
        {
          "data": {"name": "smooth"},
          "mark": {"type": "line", "color": "#990033", "strokeWidth": 1.2},
          "encoding": {
            "x": {"field": "date", "type": "temporal", "scale": {"type": "utc", "nice": false, "domain": [{"year": 2013, "month": 10, "date": 9, "utc": true}, {"year": 2020, "month": 11, "date": 4, "utc": true}]}, "axis": null},
            "y": {"field": "marsi14", "type": "quantitative", "scale": {"domain": [-7.7, 108.8], "nice": false, "zero": false}, "axis": null}
          }
        },
        {
          "data": {"name": "lastBottom"},
          "mark": {"type": "point", "shape": "diamond", "filled": true, "size": 50, "opacity": 1},
          "encoding": {
            "x": {"field": "date", "type": "temporal", "scale": {"type": "utc", "nice": false, "domain": [{"year": 2013, "month": 10, "date": 9, "utc": true}, {"year": 2020, "month": 11, "date": 4, "utc": true}]}, "axis": null},
            "y": {"field": "value", "type": "quantitative", "scale": {"domain": [-7.7, 108.8], "nice": false, "zero": false}, "axis": null},
            "color": {"field": "series", "type": "nominal", "legend": null,
              "scale": {"domain": ["price", "sma", "rsi9", "rsi14", "marsi9", "marsi14"], "range": ["#0000ff", "#ff00ff", "#4040ff", "#ff00ff", "#00c000", "#990033"]}}
          }
        },
        {
          "data": {"name": "bottomLegend"},
          "mark": {"type": "text", "align": "left", "baseline": "middle", "fontSize": 10.5, "fill": "white", "stroke": "white", "strokeWidth": 10, "strokeJoin": "miter"},
          "encoding": {
            "x": {"field": "date", "type": "temporal", "scale": {"type": "utc", "nice": false, "domain": [{"year": 2013, "month": 10, "date": 9, "utc": true}, {"year": 2020, "month": 11, "date": 4, "utc": true}]}, "axis": null},
            "y": {"field": "value", "type": "quantitative", "scale": {"domain": [-7.7, 108.8], "nice": false, "zero": false}, "axis": null},
            "text": {"field": "label"}
          }
        },
        {
          "data": {"name": "bottomLegend"},
          "mark": {"type": "text", "align": "left", "baseline": "middle", "fontSize": 10.5},
          "encoding": {
            "x": {"field": "date", "type": "temporal", "scale": {"type": "utc", "nice": false, "domain": [{"year": 2013, "month": 10, "date": 9, "utc": true}, {"year": 2020, "month": 11, "date": 4, "utc": true}]}, "axis": null},
            "y": {"field": "value", "type": "quantitative", "scale": {"domain": [-7.7, 108.8], "nice": false, "zero": false}, "axis": null},
            "text": {"field": "label"},
            "color": {"field": "series", "type": "nominal", "legend": null,
              "scale": {"domain": ["price", "sma", "rsi9", "rsi14", "marsi9", "marsi14"], "range": ["#0000ff", "#ff00ff", "#4040ff", "#ff00ff", "#00c000", "#990033"]}}
          }
        },
        {
          "data": {"name": "autoBottom"},
          "mark": {"type": "rect", "fill": "white", "stroke": "#4040ff", "strokeWidth": 1},
          "encoding": {
            "x": {"field": "date", "type": "temporal", "scale": {"type": "utc", "nice": false, "domain": [{"year": 2013, "month": 10, "date": 9, "utc": true}, {"year": 2020, "month": 11, "date": 4, "utc": true}]}, "axis": null},
            "x2": {"field": "date2"},
            "y": {"field": "value", "type": "quantitative", "scale": {"domain": [-7.7, 108.8], "nice": false, "zero": false}, "axis": null},
            "y2": {"field": "value2"}
          }
        },
        {
          "data": {"name": "autoBottom"},
          "mark": {"type": "text", "align": "center", "baseline": "middle", "fontSize": 12, "color": "#4040ff"},
          "encoding": {
            "x": {"field": "mid", "type": "temporal", "scale": {"type": "utc", "nice": false, "domain": [{"year": 2013, "month": 10, "date": 9, "utc": true}, {"year": 2020, "month": 11, "date": 4, "utc": true}]}, "axis": null},
            "y": {"field": "center", "type": "quantitative", "scale": {"domain": [-7.7, 108.8], "nice": false, "zero": false}, "axis": null},
            "text": {"field": "label"}
          }
        }
      ]
    }
  ]
}
